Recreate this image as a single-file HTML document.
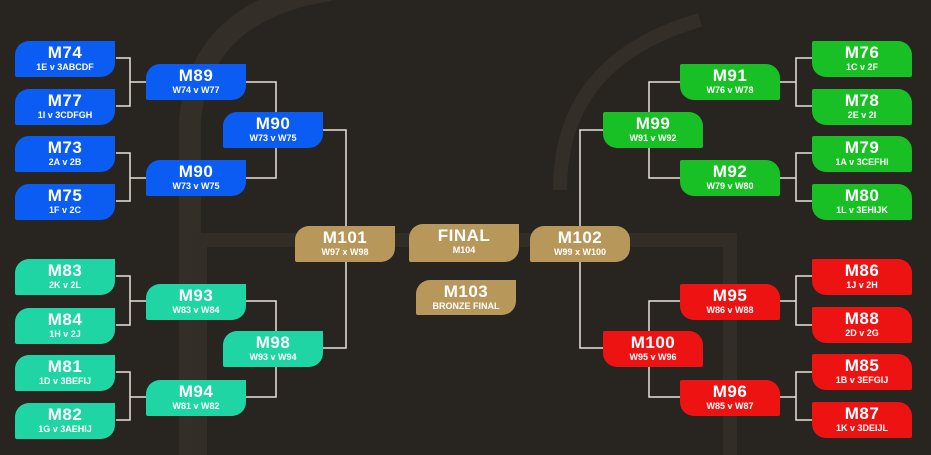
<!DOCTYPE html>
<html><head><meta charset="utf-8"><style>
body{margin:0;width:931px;height:455px;overflow:hidden;background:#28241f;font-family:"Liberation Sans",sans-serif;position:relative}
.b{position:absolute;width:100px;height:36px;color:#fff;text-align:center;box-sizing:border-box;padding-top:3px}
.b b{display:block;font-size:17px;line-height:18px;font-weight:900;letter-spacing:0.5px}
.b i{display:block;font-style:normal;font-size:9px;line-height:11px;font-weight:bold}
.L{border-radius:14px 0 14px 2px}
.R{border-radius:2px 14px 2px 14px}
.bl{background:#0b5cf2}.gr{background:#19c025}.te{background:#1fd5a3}.re{background:#ee1313}.go{background:#b8985a;border-radius:14px 0 14px 2px}
svg{position:absolute;left:0;top:0}
</style></head><body>
<svg width="931" height="455">
<path d="M190 455 L190 120 Q200 10 330 -10" stroke="#332e27" stroke-width="22" fill="none"/>
<path d="M560 190 Q560 60 700 20" stroke="#332e27" stroke-width="14" fill="none"/>
<rect x="200" y="240" width="530" height="230" fill="none" stroke="#322d27" stroke-width="14"/>
<g stroke="#e8e2d8" stroke-width="1.5" fill="none">
<path d="M116 58H130V106H116M130 82H146"/>
<path d="M116 153H130V201H116M130 178H146"/>
<path d="M246 82H276V178H246"/>
<path d="M323 130H346V348H323"/>
<path d="M116 276H130V325H116M130 301H146"/>
<path d="M116 372H130V420H116M130 397H146"/>
<path d="M246 301H276V397H246"/>
<path d="M812 58H796V106H812M796 82H780"/>
<path d="M812 153H796V201H812M796 178H780"/>
<path d="M680 82H649V178H680"/>
<path d="M603 130H580V348H603"/>
<path d="M812 276H796V325H812M796 301H780"/>
<path d="M812 372H796V420H812M796 397H780"/>
<path d="M680 301H649V397H680"/>
</g></svg>
<div class="b L bl" style="left:15px;top:41px"><b>M74</b><i>1E v 3ABCDF</i></div>
<div class="b L bl" style="left:15px;top:89px"><b>M77</b><i>1I v 3CDFGH</i></div>
<div class="b L bl" style="left:15px;top:136px"><b>M73</b><i>2A v 2B</i></div>
<div class="b L bl" style="left:15px;top:184px"><b>M75</b><i>1F v 2C</i></div>
<div class="b L bl" style="left:146px;top:64px"><b>M89</b><i>W74 v W77</i></div>
<div class="b L bl" style="left:146px;top:160px"><b>M90</b><i>W73 v W75</i></div>
<div class="b L bl" style="left:223px;top:112px"><b>M90</b><i>W73 v W75</i></div>
<div class="b L te" style="left:15px;top:259px"><b>M83</b><i>2K v 2L</i></div>
<div class="b L te" style="left:15px;top:308px"><b>M84</b><i>1H v 2J</i></div>
<div class="b L te" style="left:15px;top:355px"><b>M81</b><i>1D v 3BEFIJ</i></div>
<div class="b L te" style="left:15px;top:403px"><b>M82</b><i>1G v 3AEHIJ</i></div>
<div class="b L te" style="left:146px;top:284px"><b>M93</b><i>W83 v W84</i></div>
<div class="b L te" style="left:146px;top:380px"><b>M94</b><i>W81 v W82</i></div>
<div class="b L te" style="left:223px;top:331px"><b>M98</b><i>W93 v W94</i></div>
<div class="b R gr" style="left:812px;top:41px"><b>M76</b><i>1C v 2F</i></div>
<div class="b R gr" style="left:812px;top:89px"><b>M78</b><i>2E v 2I</i></div>
<div class="b R gr" style="left:812px;top:136px"><b>M79</b><i>1A v 3CEFHI</i></div>
<div class="b R gr" style="left:812px;top:184px"><b>M80</b><i>1L v 3EHIJK</i></div>
<div class="b R gr" style="left:680px;top:64px"><b>M91</b><i>W76 v W78</i></div>
<div class="b R gr" style="left:680px;top:160px"><b>M92</b><i>W79 v W80</i></div>
<div class="b R gr" style="left:603px;top:112px"><b>M99</b><i>W91 v W92</i></div>
<div class="b R re" style="left:812px;top:259px"><b>M86</b><i>1J v 2H</i></div>
<div class="b R re" style="left:812px;top:307px"><b>M88</b><i>2D v 2G</i></div>
<div class="b R re" style="left:812px;top:354px"><b>M85</b><i>1B v 3EFGIJ</i></div>
<div class="b R re" style="left:812px;top:402px"><b>M87</b><i>1K v 3DEIJL</i></div>
<div class="b R re" style="left:680px;top:284px"><b>M95</b><i>W86 v W88</i></div>
<div class="b R re" style="left:680px;top:380px"><b>M96</b><i>W85 v W87</i></div>
<div class="b R re" style="left:603px;top:331px"><b>M100</b><i>W95 v W96</i></div>
<div class="b go" style="left:295px;top:226px"><b>M101</b><i>W97 x W98</i></div>
<div class="b go" style="left:409px;top:224px;width:110px;height:38px"><b>FINAL</b><i>M104</i></div>
<div class="b go" style="left:530px;top:226px;border-radius:14px 14px 14px 2px"><b>M102</b><i>W99 x W100</i></div>
<div class="b go" style="left:416px;top:280px;height:35px"><b>M103</b><i>BRONZE FINAL</i></div>
</body></html>
